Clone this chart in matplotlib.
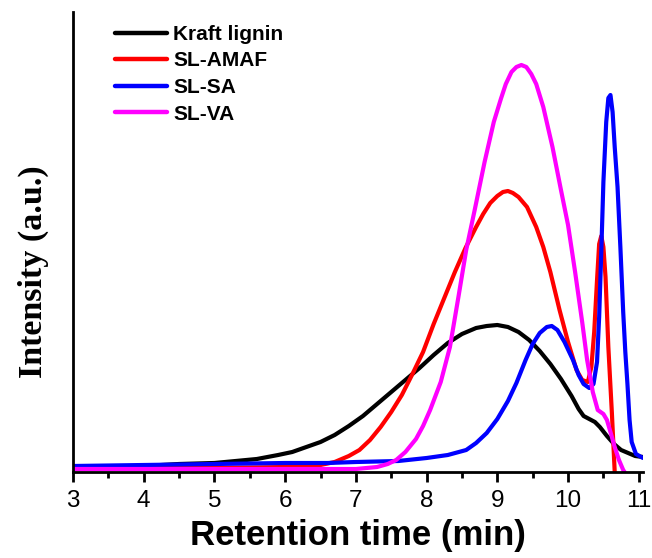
import matplotlib
matplotlib.use("Agg")
import matplotlib.pyplot as plt
from matplotlib.ticker import MultipleLocator

# retention time (min) / intensity (a.u.)
kraft_x = [3.0, 3.5, 4.0, 4.5, 5.0, 5.3, 5.6, 5.9, 6.1, 6.3, 6.5, 6.7, 6.9, 7.1, 7.3,
           7.5, 7.7, 7.9, 8.1, 8.3, 8.5, 8.7, 8.85, 9.0, 9.15, 9.3, 9.45, 9.6, 9.75,
           9.9, 10.05, 10.15, 10.22, 10.3, 10.38, 10.45, 10.55, 10.65, 10.75, 10.85,
           10.95, 11.06]
kraft_y = [4, 5, 6, 8, 9, 11, 13, 17, 20, 25, 30, 37, 46, 56, 68,
           80, 92, 104, 117, 129, 138, 144, 146, 147, 145, 140, 132, 121, 108,
           93, 76, 63, 56, 53, 50, 45, 36, 28, 22, 19, 16, 15]

amaf_x = [3.0, 4.0, 5.0, 6.0, 6.5, 6.7, 6.9, 7.05, 7.2, 7.35, 7.5, 7.65, 7.8, 7.95,
          8.1, 8.25, 8.4, 8.55, 8.7, 8.8, 8.9, 9.0, 9.08, 9.15, 9.22, 9.3, 9.42,
          9.55, 9.65, 9.75, 9.88, 10.0, 10.12, 10.2, 10.28, 10.33, 10.37, 10.41,
          10.44, 10.47, 10.5, 10.53, 10.57, 10.62, 10.66]
amaf_y = [4, 4, 4, 5, 7, 10, 16, 22, 32, 45, 60, 77, 98, 120,
          148, 174, 200, 224, 245, 258, 269, 276, 280, 281, 279, 275, 265,
          245, 225, 200, 162, 130, 102, 92, 90, 105, 140, 192,
          228, 236, 225, 195, 125, 59, 0]

sa_x = [3.0, 4.0, 5.0, 6.0, 6.6, 7.0, 7.6, 8.0, 8.3, 8.56, 8.7, 8.85, 9.0, 9.15,
        9.27, 9.4, 9.5, 9.6, 9.7, 9.77, 9.85, 9.95, 10.07, 10.15, 10.22, 10.3,
        10.36, 10.41, 10.44, 10.47, 10.5, 10.54, 10.57, 10.6, 10.63, 10.66, 10.7,
        10.74, 10.78, 10.81, 10.84, 10.87, 10.9, 10.96, 11.06]
sa_y = [6, 7, 8, 9, 9, 10, 11, 14, 17, 22, 29, 39, 53, 71,
        89, 112, 128, 139, 145, 146, 142, 130, 112, 97, 88, 84,
        88, 110, 155, 220, 290, 350, 374, 377, 360, 325, 285,
        225, 160, 120, 88, 52, 30, 18, 14]

va_x = [3.0, 5.0, 7.0, 7.3, 7.45, 7.57, 7.7, 7.85, 7.95, 8.05, 8.2, 8.33, 8.45,
        8.56, 8.68, 8.82, 8.95, 9.05, 9.12, 9.2, 9.27, 9.34, 9.41, 9.48, 9.55,
        9.65, 9.78, 9.9, 10.0, 10.1, 10.2, 10.27, 10.35, 10.42, 10.5, 10.55,
        10.6, 10.66, 10.72, 10.78, 10.8]
va_y = [3, 3, 3, 5, 8, 12, 20, 33, 46, 62, 90, 125, 175,
        222, 262, 310, 350, 373, 388, 400, 405, 407, 405, 398, 388,
        365, 325, 282, 247, 200, 150, 112, 80, 62, 58, 52,
        40, 25, 12, 2, 0]

series = [
    ("Kraft lignin", kraft_x, kraft_y, "#000000"),
    ("SL-AMAF", amaf_x, amaf_y, "#ff0000"),
    ("SL-SA", sa_x, sa_y, "#0000ff"),
    ("SL-VA", va_x, va_y, "#ff00ff"),
]

fig = plt.figure(figsize=(6.52, 5.58), dpi=100)
ax = fig.add_axes([73 / 652, 86 / 558, 570 / 652, 460 / 558])

for name, xs, ys, col in series:
    ax.plot(xs, ys, color=col, lw=3, label=name, solid_joinstyle="round",
            solid_capstyle="round")

ax.set_xlim(3, 11.06)
ax.set_ylim(0, 460)

for side in ("top", "right"):
    ax.spines[side].set_visible(False)
for side in ("left", "bottom"):
    ax.spines[side].set_linewidth(2)

ax.xaxis.set_major_locator(MultipleLocator(1))
ax.xaxis.set_minor_locator(MultipleLocator(0.5))
ax.tick_params(axis="x", which="major", direction="out", length=7, width=2,
               pad=6, labelsize=17.5)
ax.tick_params(axis="x", which="minor", direction="out", length=4.5, width=2)
ax.set_yticks([])
for lab in ax.get_xticklabels():
    lab.set_family("Liberation Sans")

ax.set_xlabel("Retention time (min)", family="Liberation Sans",
              fontweight="bold", fontsize=25, labelpad=5)
ax.set_ylabel("Intensity (a.u.)", family="Liberation Serif",
              fontweight="bold", fontsize=24.5)
ax.yaxis.set_label_coords(-0.042, 0.435)

leg = ax.legend(loc="upper left", bbox_to_anchor=(115 / 652, 1 - 25 / 558),
                bbox_transform=fig.transFigure, frameon=False, borderpad=0,
                borderaxespad=0, handlelength=2.5, handletextpad=0.3,
                labelspacing=0.36,
                prop={"family": "Liberation Sans", "weight": "bold", "size": 15})
for h in leg.get_lines():
    h.set_linewidth(3.2)

fig.savefig("out.png", dpi=100)
